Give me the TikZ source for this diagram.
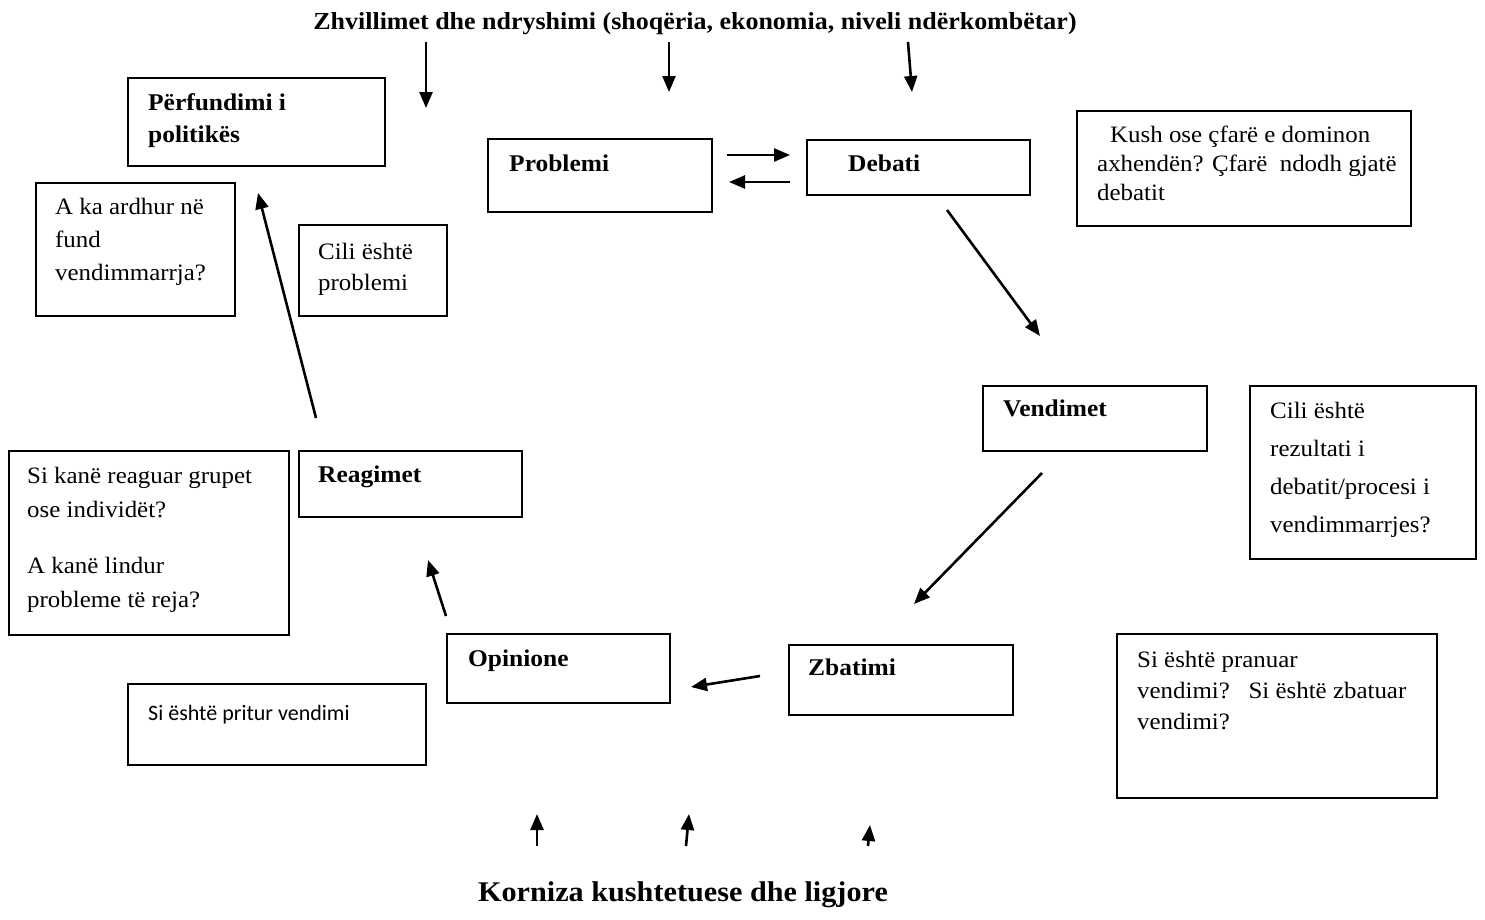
\documentclass[tikz,border=0pt]{standalone}
\usepackage{fontspec}
\setmainfont[FakeStretch=1.06]{Liberation Serif}
\newfontfamily\calibri{Carlito}
\usetikzlibrary{arrows.meta}

\tikzset{
	box/.style={draw, line width=1.6pt, anchor=north west, inner sep=0pt},
	txt/.style={anchor=north west, inner sep=0pt, align=left},
	head/.style={anchor=north west, inner sep=0pt, font=\fontsize{24}{32}\selectfont\bfseries},
	flow/.style={-{Triangle[length=16pt,width=13pt]}, line width=2.6pt},
}

\begin{document}
\begin{tikzpicture}[x=1pt,y=-1pt]
	\useasboundingbox (0,0) rectangle (1485,919);

	% titles
	\node[font=\fontsize{24.5}{28}\selectfont\bfseries] (zhv) at (695,24) {Zhvillimet dhe ndryshimi (shoqëria, ekonomia, niveli ndërkombëtar)};
	\node[font=\fontsize{28.5}{33}\selectfont\bfseries] (korniza) at (683,895) {Korniza kushtetuese dhe ligjore};

	% boxes
	\node[box, minimum width=257pt, minimum height=88pt] (perf) at (127,77) {};
	\node[box, minimum width=199pt, minimum height=133pt] (ardhur) at (35,182) {};
	\node[box, minimum width=148pt, minimum height=91pt] (cili) at (298,224) {};
	\node[box, minimum width=224pt, minimum height=73pt] (problemi) at (487,138) {};
	\node[box, minimum width=223pt, minimum height=55pt] (debati) at (806,139) {};
	\node[box, minimum width=334pt, minimum height=115pt] (kush) at (1076,110) {};
	\node[box, minimum width=224pt, minimum height=65pt] (vendimet) at (982,385) {};
	\node[box, minimum width=226pt, minimum height=173pt] (rezultati) at (1249,385) {};
	\node[box, minimum width=280pt, minimum height=184pt] (reaguar) at (8,450) {};
	\node[box, minimum width=223pt, minimum height=66pt] (reagimet) at (298,450) {};
	\node[box, minimum width=223pt, minimum height=69pt] (opinione) at (446,633) {};
	\node[box, minimum width=298pt, minimum height=81pt] (pritur) at (127,683) {};
	\node[box, minimum width=224pt, minimum height=70pt] (zbatimi) at (788,644) {};
	\node[box, minimum width=320pt, minimum height=164pt] (pranuar) at (1116,633) {};

	% texts in the boxes
	\node[head, align=left, font=\fontsize{24}{32}\selectfont\bfseries] (perf-t) at (148,93) {Përfundimi i\\politikës};
	\node[txt, font=\fontsize{23.5}{33}\selectfont] (ardhur-t) at (55,198) {A ka ardhur në\\fund\\vendimmarrja?};
	\node[txt, font=\fontsize{23.5}{31}\selectfont] (cili-t) at (318,243) {Cili është\\problemi};
	\node[head] (problemi-t) at (509,155) {Problemi};
	\node[head] (debati-t) at (848,155) {Debati};
	\node[txt, font=\fontsize{23.5}{29}\selectfont] (kush-t) at (1097,126) {\hspace*{13pt}Kush ose çfarë e dominon\\axhendën? Çfarë\ \ ndodh gjatë\\debatit};
	\node[head] (vendimet-t) at (1003,400) {Vendimet};
	\node[txt, font=\fontsize{23.5}{38}\selectfont] (rezultati-t) at (1270,402) {Cili është\\rezultati i\\debatit/procesi i\\vendimmarrjes?};
	\node[txt, font=\fontsize{23.5}{34}\selectfont] (reaguar-t) at (27,467) {Si kanë reaguar grupet\\ose individët?\\[22pt]A kanë lindur\\probleme të reja?};
	\node[head] (reagimet-t) at (318,466) {Reagimet};
	\node[head] (opinione-t) at (468,650) {Opinione};
	\node[txt, font=\fontsize{22}{28}\calibri] (pritur-t) at (148,705) {Si është pritur vendimi};
	\node[head] (zbatimi-t) at (808,659) {Zbatimi};
	\node[txt, font=\fontsize{23.5}{31}\selectfont] (pranuar-t) at (1137,651) {Si është pranuar\\vendimi?\ \ \ Si është zbatuar\\vendimi?};

	% arrow ends
	\coordinate (a1) at (426,42);  \coordinate (a1e) at (426,108);
	\coordinate (a2) at (669,42);  \coordinate (a2e) at (669,92);
	\coordinate (a3) at (908,42);  \coordinate (a3e) at (912,92);
	\coordinate (pd) at (727,155); \coordinate (pde) at (790,155);
	\coordinate (dp) at (790,182); \coordinate (dpe) at (729,182);
	\coordinate (dv) at (947,210); \coordinate (dve) at (1040,336);
	\coordinate (vz) at (1042,473); \coordinate (vze) at (914,604);
	\coordinate (zo) at (760,676); \coordinate (zoe) at (691,687);
	\coordinate (or) at (446,616); \coordinate (ore) at (428,560);
	\coordinate (rp) at (316,418); \coordinate (rpe) at (258,193);
	\coordinate (b1) at (537,846); \coordinate (b1e) at (537,814);
	\coordinate (b2) at (686,846); \coordinate (b2e) at (689,814);
	\coordinate (b3) at (868,846); \coordinate (b3e) at (870,825);

	\draw[flow] (a1) -- (a1e);
	\draw[flow] (a2) -- (a2e);
	\draw[flow] (a3) -- (a3e);
	\draw[flow] (pd) -- (pde);
	\draw[flow] (dp) -- (dpe);
	\draw[flow] (dv) -- (dve);
	\draw[flow] (vz) -- (vze);
	\draw[flow] (zo) -- (zoe);
	\draw[flow] (or) -- (ore);
	\draw[flow] (rp) -- (rpe);
	\draw[flow] (b1) -- (b1e);
	\draw[flow] (b2) -- (b2e);
	\draw[flow] (b3) -- (b3e);
\end{tikzpicture}
\end{document}
